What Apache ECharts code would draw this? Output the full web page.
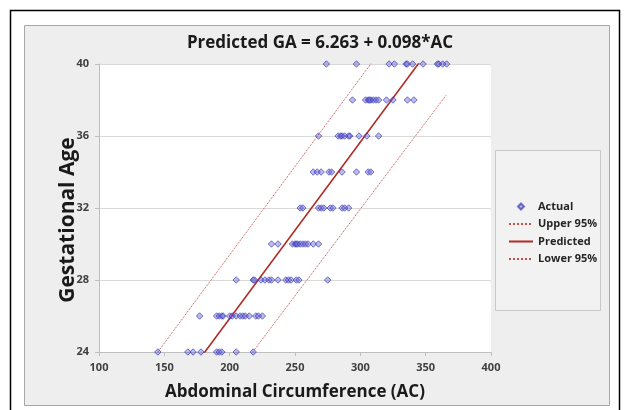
<!DOCTYPE html>
<html>
<head>
<meta charset="utf-8">
<script src="https://cdn.jsdelivr.net/npm/echarts@6/dist/echarts.min.js"></script>
<style>
  html, body { margin: 0; padding: 0; background: #fff; }
  #chart { width: 630px; height: 410px; }
</style>
</head>
<body>
<div id="chart"></div>
<script>
// gestational age rows (weeks) and the AC readings in each row
const gaRows = [24, 26, 28, 30, 32, 34, 36, 38, 40]
const acByRow = [
  [145, 168, 172, 178, 190, 192, 194, 205, 218],
  [177, 190, 192, 194, 195, 200, 202, 205, 208, 210, 212, 215, 220, 222, 225],
  [205, 218, 219, 224, 227, 230, 232, 237, 243, 245, 247, 251, 253, 275],
  [232, 237, 248, 250, 251, 252, 254, 256, 258, 260, 264, 268],
  [254, 256, 268, 270, 272, 277, 279, 286, 288, 291],
  [264, 267, 270, 276, 278, 286, 297, 306, 308],
  [268, 283, 285, 286, 288, 291, 292, 299, 305, 314],
  [294, 304, 306, 307, 308, 310, 312, 314, 320, 325, 336, 341],
  [274, 297, 322, 326, 335, 336, 340, 348, 359, 360, 363, 366]
]
// line end points [AC, GA]
const predictedLine = [[145, 20.47], [366, 42.13]]
const upperLine = [[145, 24.0], [366, 45.7]]
const lowerLine = [[145, 17.0], [366, 38.3]]
const xTicks = [100, 400, 50]
const yTicks = [24, 40, 4]

const actual = []
gaRows.forEach((ga, i) => {
  acByRow[i].forEach(ac => actual.push([ac, ga]))
})

const chartInstance = echarts.init(document.getElementById('chart'))

const labelFont = {
  color: '#404040',
  fontSize: 11,
  fontWeight: 'bold',
  fontFamily: 'Open Sans'
}

// hide the circle echarts puts on line legend icons
const noDot = { opacity: 0 }

const option = {
  animation: false,
  backgroundColor: '#ffffff',
  graphic: [
    {
      type: 'rect', z: -10, silent: true,
      shape: { x: 10.5, y: 10.5, width: 609, height: 420 },
      style: { fill: '#ffffff', stroke: '#000000', lineWidth: 1.5 }
    },
    {
      type: 'rect', z: -9, silent: true,
      shape: { x: 24.5, y: 25.5, width: 585, height: 380 },
      style: { fill: '#eeeeee', stroke: '#a6a6a6', lineWidth: 1 }
    },
    {
      type: 'rect', z: -8, silent: true,
      shape: { x: 99, y: 64, width: 392, height: 288 },
      style: { fill: '#ffffff' }
    },
    {
      type: 'rect', z: -8, silent: true,
      shape: { x: 495.5, y: 150.5, width: 105, height: 160 },
      style: { fill: '#f2f2f2', stroke: '#c8c8c8', lineWidth: 1 }
    }
  ],
  title: {
    text: 'Predicted GA = 6.263 + 0.098*AC',
    left: 315,
    textAlign: 'center',
    top: 30,
    textStyle: {
      fontFamily: 'Open Sans',
      fontWeight: 'bold',
      fontSize: 17,
      color: '#1a1a1a'
    }
  },
  legend: {
    orient: 'vertical',
    left: 503,
    top: 196,
    itemGap: 6.5,
    itemWidth: 24,
    itemHeight: 6,
    textStyle: { color: '#262626', fontSize: 11, fontWeight: 'bold', fontFamily: 'Open Sans' },
    data: [
      { name: 'Actual', icon: 'path://M5,0 L10,5 L5,10 L0,5 Z' },
      { name: 'Upper 95%', itemStyle: noDot },
      { name: 'Predicted', itemStyle: noDot },
      { name: 'Lower 95%', itemStyle: noDot }
    ]
  },
  grid: {
    left: 99,
    right: 139,
    top: 64,
    bottom: 58
  },
  xAxis: {
    type: 'value',
    min: xTicks[0],
    max: xTicks[1],
    interval: xTicks[2],
    name: 'Abdominal Circumference (AC)',
    nameLocation: 'middle',
    nameGap: 32,
    nameTextStyle: { fontFamily: 'Open Sans', fontWeight: 'bold', fontSize: 17, color: '#1a1a1a' },
    axisLine: { lineStyle: { color: '#bfbfbf' } },
    axisTick: { show: true, length: 4, lineStyle: { color: '#bfbfbf' } },
    axisLabel: Object.assign({ margin: 10 }, labelFont),
    splitLine: { show: false }
  },
  yAxis: {
    type: 'value',
    min: yTicks[0],
    max: yTicks[1],
    interval: yTicks[2],
    name: 'Gestational Age',
    nameLocation: 'middle',
    nameGap: 20,
    nameMoveOverlap: false,
    nameTextStyle: {
      fontFamily: 'Open Sans', fontWeight: 'bold', fontSize: 21, color: '#1a1a1a',
      padding: [0, 24, 0, 0]
    },
    axisLine: { show: true, lineStyle: { color: '#bfbfbf' } },
    axisTick: { show: true, length: 4, lineStyle: { color: '#bfbfbf' } },
    axisLabel: Object.assign({ margin: 10 }, labelFont),
    splitLine: { lineStyle: { color: '#d9d9d9' } }
  },
  series: [
    {
      name: 'Actual',
      type: 'scatter',
      symbol: 'diamond',
      symbolSize: 6.5,
      data: actual,
      z: 3,
      itemStyle: {
        color: 'rgba(100,100,215,0.55)',
        borderColor: 'rgba(45,45,175,0.8)',
        borderWidth: 1
      }
    },
    {
      name: 'Upper 95%',
      type: 'line',
      symbol: 'none',
      clip: true,
      data: upperLine,
      lineStyle: { color: '#c0504d', width: 1, type: 'dotted' },
      itemStyle: { color: '#c0504d' }
    },
    {
      name: 'Predicted',
      type: 'line',
      symbol: 'none',
      clip: true,
      data: predictedLine,
      lineStyle: { color: '#b02a25', width: 1.6 },
      itemStyle: { color: '#b02a25' }
    },
    {
      name: 'Lower 95%',
      type: 'line',
      symbol: 'none',
      clip: true,
      data: lowerLine,
      lineStyle: { color: '#c0504d', width: 1, type: 'dotted' },
      itemStyle: { color: '#c0504d' }
    }
  ]
}

chartInstance.setOption(option)
</script>
</body>
</html>
